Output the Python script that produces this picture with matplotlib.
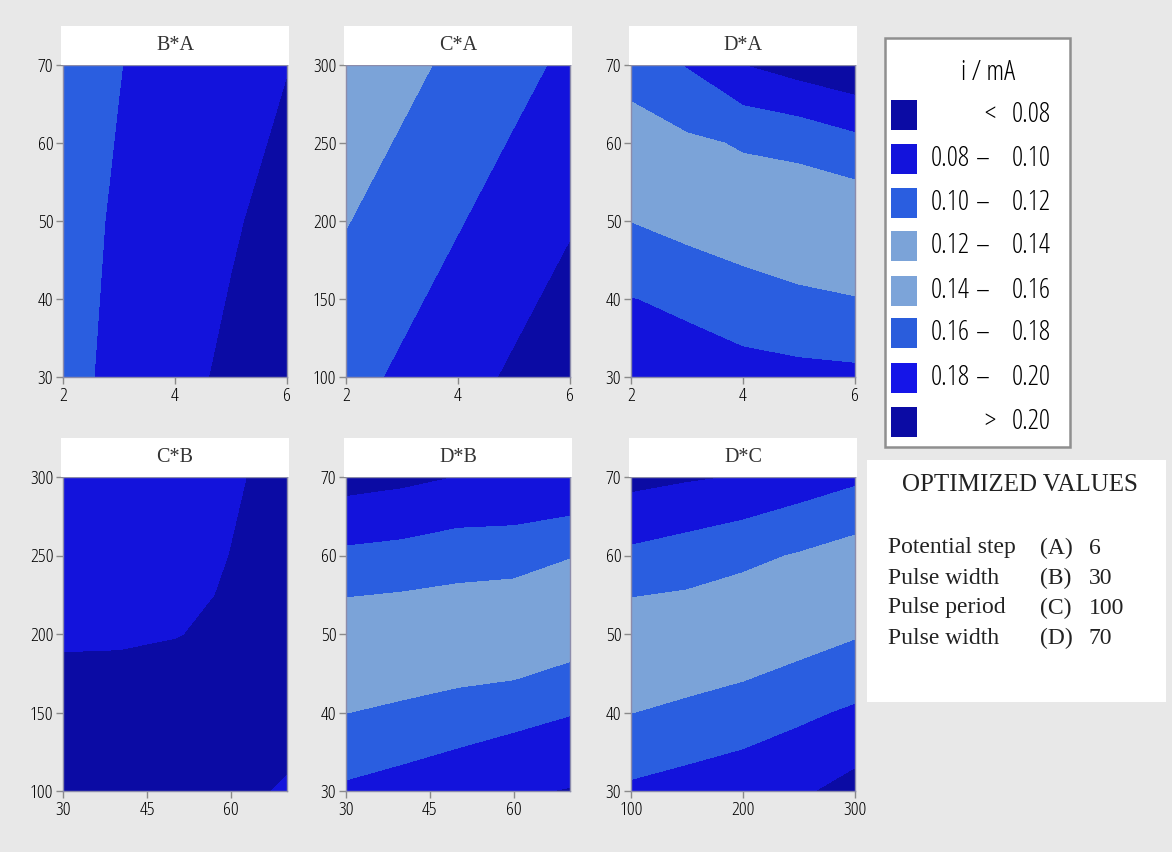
import matplotlib
matplotlib.use("Agg")
import matplotlib.pyplot as plt
from matplotlib import font_manager
from matplotlib.patches import Rectangle

# ---------------- data ----------------
levels = [0.0, 0.08, 0.10, 0.12, 0.14, 0.16, 0.18, 0.20, 0.30]
level_colors = ["#0b0ba4", "#1313dc", "#2a5ee0", "#7ba3d8",
                "#7ca4d9", "#2a5ddc", "#1515e8", "#0b0ba4"]
legend_left = ["", "0.08", "0.10", "0.12", "0.14", "0.16", "0.18", ""]
legend_sign = ["<", "\u2013", "\u2013", "\u2013", "\u2013", "\u2013", "\u2013", ">"]
legend_right = ["0.08", "0.10", "0.12", "0.14", "0.16", "0.18", "0.20", "0.20"]
legend_title = "i / mA"

panel_titles = ["B*A", "C*A", "D*A", "C*B", "D*B", "D*C"]

ba_x = [2, 3, 4, 5, 6]
ba_y = [30, 50, 70]
ba_z = [[0.105, 0.096, 0.086, 0.076, 0.066],
        [0.106, 0.098, 0.090, 0.082, 0.073],
        [0.107, 0.1005, 0.093, 0.087, 0.0805]]

ca_x = [2, 3, 4, 5, 6]
ca_y = [100, 200, 300]
ca_z = [[0.1065, 0.0967, 0.0869, 0.0771, 0.0674],
        [0.1208, 0.1110, 0.1012, 0.0914, 0.0817],
        [0.1351, 0.1253, 0.1155, 0.1057, 0.0960]]

da_x = [2, 3, 4, 5, 6]
da_y = [30, 40, 50, 60, 70]
da_z = [[0.085, 0.091, 0.092, 0.0942, 0.0955],
        [0.0994, 0.1035, 0.112, 0.1165, 0.1193],
        [0.1202, 0.1271, 0.1306, 0.1349, 0.136],
        [0.128, 0.1232, 0.1184, 0.1145, 0.1055],
        [0.1129, 0.0988, 0.080, 0.071, 0.0638]]

cb_x = [30, 40, 50, 60, 70]
cb_y = [100, 150, 200, 225, 250, 300]
cb_z = [[0.072, 0.072, 0.073, 0.076, 0.0815],
        [0.068, 0.068, 0.068, 0.072, 0.074],
        [0.0835, 0.083, 0.0807, 0.076, 0.072],
        [0.086, 0.085, 0.083, 0.0787, 0.073],
        [0.088, 0.087, 0.085, 0.0797, 0.074],
        [0.090, 0.089, 0.087, 0.0815, 0.076]]

db_x = [30, 40, 50, 60, 70]
db_y = [30, 40, 50, 60, 70]
db_z = [[0.0967, 0.0912, 0.0853, 0.082, 0.079],
        [0.1202, 0.117, 0.112, 0.106, 0.1009],
        [0.1338, 0.1358, 0.137, 0.1395, 0.1303],
        [0.1038, 0.1062, 0.1105, 0.1117, 0.1195],
        [0.0721, 0.0754, 0.0802, 0.0809, 0.0805]]

dc_x = [100, 150, 200, 250, 300]
dc_y = [30, 40, 50, 60, 70]
dc_z = [[0.0965, 0.0915, 0.0883, 0.0829, 0.0727],
        [0.1202, 0.1165, 0.11, 0.1035, 0.0971],
        [0.1337, 0.134, 0.135, 0.1281, 0.1215],
        [0.1039, 0.1091, 0.1158, 0.1213, 0.1284],
        [0.074, 0.0778, 0.0808, 0.089, 0.0961]]

a_ticks = [2, 4, 6]
b_ticks = [30, 45, 60]
c_xticks = [100, 200, 300]
c_yticks = [100, 150, 200, 250, 300]
d_ticks = [30, 40, 50, 60, 70]
b_yticks = [30, 40, 50, 60, 70]

opt_title = "OPTIMIZED VALUES"
opt_names = ["Potential step", "Pulse width", "Pulse period", "Pulse width"]
opt_factors = ["(A)", "(B)", "(C)", "(D)"]
opt_values = ["6", "30", "100", "70"]

# ---------------- fonts ----------------
fonts = [(f.name, f.stretch) for f in font_manager.fontManager.ttflist]
SANS, STRETCH = ["Liberation Sans", "DejaVu Sans"], "normal"
tick_fs, leg_fs = 12, 17
choices = [("Liberation Sans Narrow", None), ("Noto Sans", "condensed"),
           ("Open Sans", "condensed"), ("DejaVu Sans", "condensed")]
for pref, st in choices:
    if any(n == pref and (st is None or s == st) for n, s in fonts):
        SANS = [pref, "DejaVu Sans"]
        STRETCH = "normal" if st is None else st
        if pref == "DejaVu Sans":
            tick_fs, leg_fs = 12.5, 16.5
        else:
            tick_fs, leg_fs = 14, 20
        break
SERIF = ["Liberation Serif", "DejaVu Serif"]
TXT = "#000000"

# ---------------- figure ----------------
W, H, DPI = 1172, 852, 100
BG = "#e8e8e8"
fig = plt.figure(figsize=(W / DPI, H / DPI), dpi=DPI, facecolor=BG)


def fx(px):
    return px / W


def fy(py):
    return 1 - py / H


def stext(x, y, s, **kw):
    return fig.text(x, y, s, family=SANS, stretch=STRETCH, weight="normal",
                    fontsize=leg_fs, color=TXT, va="center", **kw)


cols = [(63, 287), (346, 570), (631, 855)]
rows = [(65, 377), (477, 791)]

panels = [
    (ba_x, ba_y, ba_z, (2, 6), (30, 70), a_ticks, b_yticks),
    (ca_x, ca_y, ca_z, (2, 6), (100, 300), a_ticks, c_yticks),
    (da_x, da_y, da_z, (2, 6), (30, 70), a_ticks, d_ticks),
    (cb_x, cb_y, cb_z, (30, 70), (100, 300), b_ticks, c_yticks),
    (db_x, db_y, db_z, (30, 70), (30, 70), b_ticks, d_ticks),
    (dc_x, dc_y, dc_z, (100, 300), (30, 70), c_xticks, d_ticks),
]

for i, (xv, yv, zv, xl, yl, xt, yt) in enumerate(panels):
    r, c = divmod(i, 3)
    x0, x1 = cols[c]
    y0, y1 = rows[r]
    # title strip
    fig.patches.append(Rectangle((fx(x0 - 2), fy(y0)), (x1 - x0 + 4) / W, 39 / H,
                                 transform=fig.transFigure, facecolor="white",
                                 edgecolor="none", zorder=0))
    fig.text(fx((x0 + x1) / 2), fy(y0 - 19), panel_titles[i], ha="center",
             va="center", family=SERIF, fontsize=14.5, color="#333333")
    ax = fig.add_axes([fx(x0), fy(y1), (x1 - x0) / W, (y1 - y0) / H])
    ax.contourf(xv, yv, zv, levels=levels, colors=level_colors)
    ax.set_xlim(*xl)
    ax.set_ylim(*yl)
    ax.set_xticks(xt)
    ax.set_yticks(yt)
    ax.tick_params(direction="out", length=5, width=1, color="#8a8a8a",
                   labelcolor=TXT, labelsize=tick_fs, pad=2)
    for lab in ax.get_xticklabels() + ax.get_yticklabels():
        lab.set_family(SANS)
        lab.set_fontstretch(STRETCH)
        lab.set_weight("normal")
    for sp in ax.spines.values():
        sp.set_color("#8c8cab")
        sp.set_linewidth(1)

# ---------------- legend box ----------------
lx0, lx1, ly0, ly1 = 885, 1070, 38, 447
fig.patches.append(Rectangle((fx(lx0), fy(ly1)), (lx1 - lx0) / W, (ly1 - ly0) / H,
                             transform=fig.transFigure, facecolor="white",
                             edgecolor="#8f8f8f", linewidth=1.8, zorder=0))
stext(fx(988), fy(73), legend_title, ha="center")
row_y = [115, 159, 203, 246, 291, 333, 378, 422]
for k in range(len(level_colors)):
    yc = row_y[k]
    fig.patches.append(Rectangle((fx(891), fy(yc + 15)), 26 / W, 30 / H,
                                 transform=fig.transFigure,
                                 facecolor=level_colors[k], edgecolor="none"))
    if legend_left[k]:
        stext(fx(970), fy(yc), legend_left[k], ha="right")
        stext(fx(983), fy(yc), legend_sign[k], ha="center")
    else:
        stext(fx(990), fy(yc), legend_sign[k], ha="center")
    stext(fx(1051), fy(yc), legend_right[k], ha="right")

# ---------------- optimized values box ----------------
ox0, ox1, oy0, oy1 = 867, 1166, 460, 702
fig.patches.append(Rectangle((fx(ox0), fy(oy1)), (ox1 - ox0) / W, (oy1 - oy0) / H,
                             transform=fig.transFigure, facecolor="white",
                             edgecolor="none", zorder=0))
fig.text(fx(1020), fy(485), opt_title, ha="center", va="center",
         family=SERIF, fontsize=18, color="#222222")
for k in range(len(opt_names)):
    yc = 548 + 30 * k
    fig.text(fx(888), fy(yc), opt_names[k], ha="left", va="center",
             family=SERIF, fontsize=17, color="#222222")
    fig.text(fx(1056), fy(yc), opt_factors[k], ha="center", va="center",
             family=SERIF, fontsize=17, color="#222222")
    fig.text(fx(1089), fy(yc), opt_values[k], ha="left", va="center",
             family=SERIF, fontsize=17, color="#222222")

fig.savefig("out.png", dpi=DPI, facecolor=BG)
